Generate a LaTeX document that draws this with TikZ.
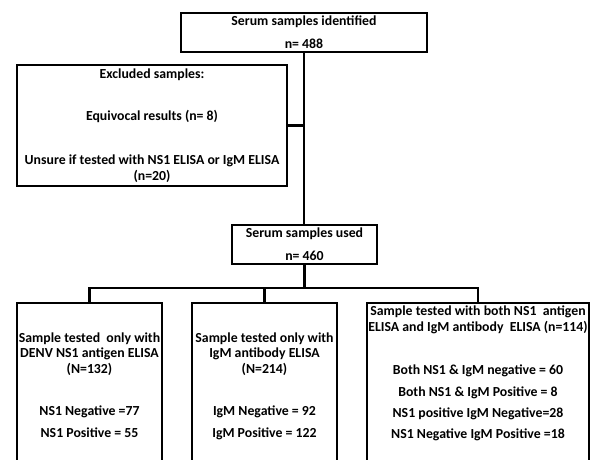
\documentclass[tikz,border=0pt]{standalone}
\usepackage{fontspec}
\setmainfont{Carlito}
\usetikzlibrary{positioning}

\begin{document}
\begin{tikzpicture}[x=1pt,y=-1pt,
  every node/.style={font=\bfseries\fontsize{13.8}{15.5}\selectfont, align=center, inner sep=0pt, outer sep=0pt},
  box/.style={draw, line width=2.4pt, minimum height=39pt},
  tallbox/.style={draw, line width=2.4pt, minimum height=170pt, minimum width=145pt},
  link/.style={line width=2.4pt}]
   \useasboundingbox (0,0) rectangle (595,459);
   \clip (0,0) rectangle (595,459);
   \node[box, minimum width=246pt] (identified) at (304,32.5) {Serum samples identified\\[7.5pt]n= 488};
   \node[box, minimum width=270pt, minimum height=121pt] (excluded) at (152,125.5) {Excluded samples:\\[26.5pt]Equivocal results (n= 8)\\[28.5pt]Unsure if tested with NS1 ELISA or IgM ELISA\\(n=20)};
   \node[box, minimum width=145pt] (used) at (304.5,244.5) {Serum samples used\\[7.5pt]n= 460};

   \node[tallbox] (denv) at (89.5,388) {};
   \node[tallbox] (igm) at (264.5,388) {};
   \node[tallbox, minimum width=222pt] (both) at (478,388) {};
   \node[below=29.5pt of denv.north] (denvtxt) {Sample tested\ \ only with\\DENV NS1 antigen ELISA\\(N=132)\\[27pt]NS1 Negative =77\\[6pt]NS1 Positive = 55};
   \node[below=29.5pt of igm.north] (igmtxt) {Sample tested only with\\IgM antibody ELISA\\(N=214)\\[27pt]IgM Negative = 92\\[6pt]IgM Positive = 122};
   \node[below=3pt of both.north] (bothtxt) {Sample tested with both NS1\ \ antigen\\ELISA and IgM antibody\ \ ELISA (n=114)\\[28pt]Both NS1 \& IgM negative = 60\\[6.5pt]Both NS1 \& IgM Positive = 8\\[5.5pt]NS1 positive IgM Negative=28\\[5pt]NS1 Negative IgM Positive =18};

   \coordinate (bus) at (0,288);
   \draw[link] (identified.south) -- (identified.south |- used.north);
   \draw[link] (excluded.east) -- (excluded.east -| identified.south);
   \draw[link] (used.south) -- (used.south |- bus);
   \draw[link] (denv.north) |- (both.north |- bus) -- (both.north);
   \draw[link] (igm.north) -- (igm.north |- bus);
\end{tikzpicture}
\end{document}
